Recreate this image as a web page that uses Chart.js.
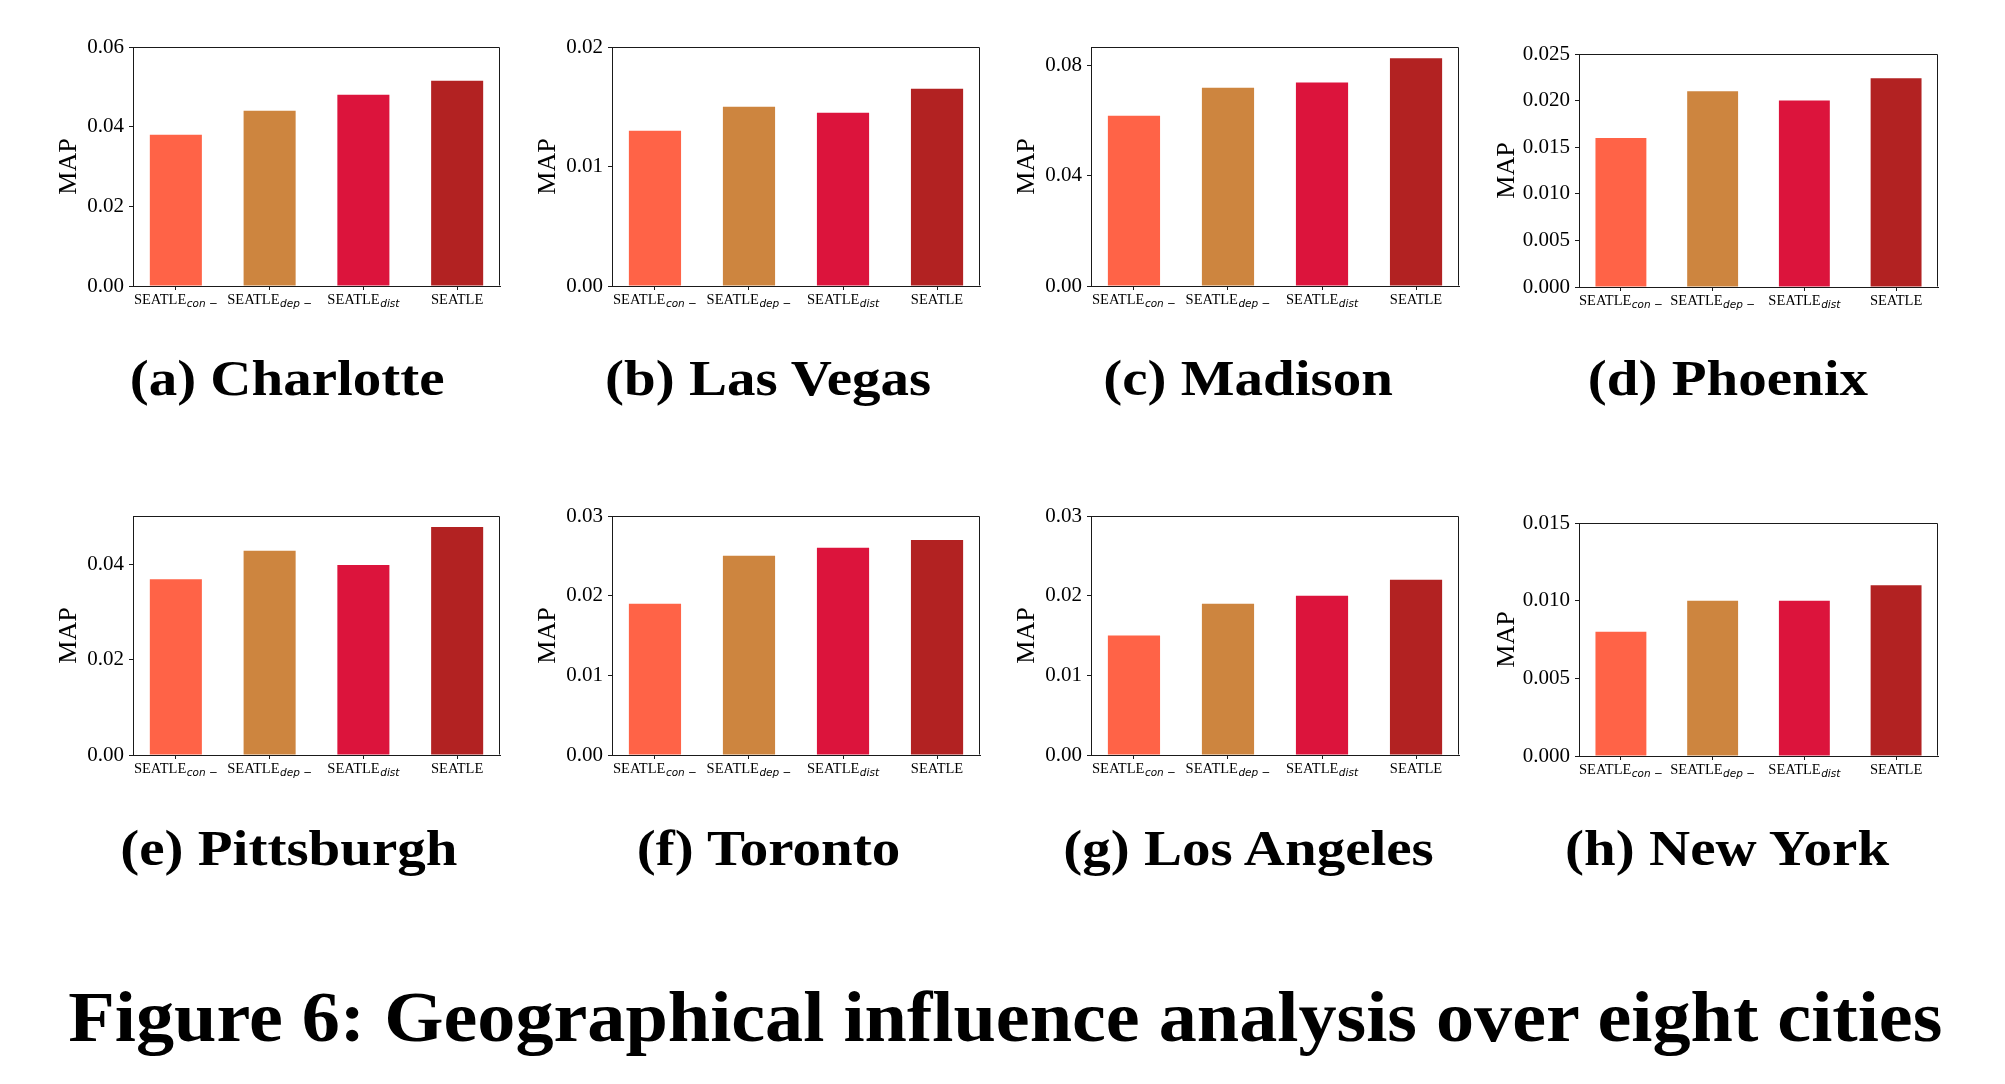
<!DOCTYPE html>
<html><head><meta charset="utf-8">
<script src="https://cdn.jsdelivr.net/npm/chart.js@4.4.0/dist/chart.umd.min.js"></script>
<style>
html,body{margin:0;padding:0;background:#fff;width:2005px;height:1084px;overflow:hidden;}
.cap{position:absolute;font-family:"Liberation Serif",serif;font-weight:bold;color:#000;white-space:nowrap;line-height:1;transform-origin:50% 50%;}
canvas{position:absolute;}
</style></head><body>
<script>
// ---- data ----
const categories = ['SEATLE_{con −}', 'SEATLE_{dep −}', 'SEATLE_{dist}', 'SEATLE'];
const barColors = ['#FF6347', '#CD853F', '#DC143C', '#B22222'];
const panelLabels = ['(a) Charlotte', '(b) Las Vegas', '(c) Madison', '(d) Phoenix',
                     '(e) Pittsburgh', '(f) Toronto', '(g) Los Angeles', '(h) New York'];
const charlotte  = [0.038, 0.044, 0.048, 0.0515];
const lasVegas   = [0.013, 0.015, 0.0145, 0.0165];
const madison    = [0.0618, 0.0719, 0.0738, 0.0826];
const phoenix    = [0.016, 0.021, 0.020, 0.0224];
const pittsburgh = [0.037, 0.043, 0.040, 0.048];
const toronto    = [0.019, 0.025, 0.026, 0.027];
const losAngeles = [0.015, 0.019, 0.020, 0.022];
const newYork    = [0.008, 0.010, 0.010, 0.011];
const seriesValues = [charlotte, lasVegas, madison, phoenix, pittsburgh, toronto, losAngeles, newYork];
const yMax      = [0.06, 0.02, 0.0867, 0.025, 0.0503, 0.03, 0.03, 0.015];
const yStep     = [0.02, 0.01, 0.04, 0.005, 0.02, 0.01, 0.01, 0.005];
const yDecimals = [2, 2, 2, 3, 2, 2, 2, 3];
const yAxisTitle = 'MAP';
const figureTitle = 'Figure 6: Geographical influence analysis over eight cities';

// ---- layout (plot boxes in page pixels) ----
const boxes = [
  {l:133, t:47, r:500, b:286, ty:64}, {l:612, t:47, r:980, b:286, ty:64},
  {l:1091, t:47, r:1459, b:286, ty:64}, {l:1579, t:54, r:1938, b:287, ty:72},
  {l:133, t:516, r:500, b:755, ty:64}, {l:612, t:516, r:980, b:755, ty:64},
  {l:1091, t:516, r:1459, b:755, ty:64}, {l:1579, t:523, r:1938, b:756, ty:72}
];
const captionPos = [
  {x:287, y:395}, {x:768, y:395}, {x:1248, y:395}, {x:1728, y:395},
  {x:289, y:865}, {x:769, y:865}, {x:1248, y:865}, {x:1727, y:865}
];

const PADL = 100, PADT = 30, PADR = 20, PADB = 60;
const SERIF = '"Liberation Serif", "Times New Roman", serif';

function parseLabel(s) {
  const m = s.match(/^(.*?)_\{(.*)\}$/);
  return m ? {main: m[1], sub: m[2]} : {main: s, sub: ''};
}

const frameAndLabels = {
  id: 'frameAndLabels',
  afterDraw(chart) {
    const ctx = chart.ctx, a = chart.chartArea;
    ctx.save();
    ctx.strokeStyle = '#1a1a1a';
    ctx.lineWidth = 1;
    const L = Math.round(a.left) + 0.5, R = Math.round(a.right) - 0.5;
    const T = Math.round(a.top) + 0.5, B = Math.round(a.bottom) - 0.5;
    ctx.beginPath();
    ctx.moveTo(L, T); ctx.lineTo(R, T); ctx.lineTo(R, B);
    ctx.stroke();
    // category labels with subscripts
    const xs = chart.scales.x;
    const base = a.bottom + 18;
    ctx.fillStyle = '#000';
    ctx.textBaseline = 'alphabetic';
    ctx.textAlign = 'left';
    categories.forEach((c, i) => {
      const p = parseLabel(c);
      const cx = xs.getPixelForValue(i);
      ctx.font = '14.5px ' + SERIF;
      const wm = ctx.measureText(p.main).width;
      ctx.font = 'italic 10.5px "DejaVu Sans", sans-serif';
      const ws = p.sub ? ctx.measureText(p.sub).width + 0.5 : 0;
      const x0 = cx - (wm + ws) / 2;
      ctx.font = '14.5px ' + SERIF;
      ctx.fillText(p.main, x0, base);
      if (p.sub) {
        ctx.font = 'italic 10.5px "DejaVu Sans", sans-serif';
        ctx.fillText(p.sub, x0 + wm + 0.5, base + 3);
      }
    });
    ctx.restore();
  }
};

function makeChart(idx) {
  const box = boxes[idx];
  const values = seriesValues[idx];
  const cv = document.createElement('canvas');
  const w = box.r - box.l + PADL + PADR, h = box.b - box.t + PADT + PADB;
  cv.width = w; cv.height = h;
  cv.style.left = (box.l - PADL) + 'px';
  cv.style.top = (box.t - PADT) + 'px';
  cv.style.width = w + 'px'; cv.style.height = h + 'px';
  document.body.appendChild(cv);
  const titleSize = 26;
  const titlePad = PADL - box.ty - titleSize * 1.2 / 2;
  new Chart(cv, {
    type: 'bar',
    data: {
      datasets: [{
        data: values.map((v, i) => ({x: i, y: v})),
        backgroundColor: barColors,
        borderWidth: 0,
        barPercentage: 0.555,
        categoryPercentage: 1.0
      }]
    },
    options: {
      responsive: false,
      animation: false,
      devicePixelRatio: 1,
      layout: {padding: {top: PADT, right: PADR, left: 0, bottom: 0}},
      plugins: {legend: {display: false}, tooltip: {enabled: false}},
      scales: {
        x: {
          type: 'linear', min: -0.457, max: 3.457,
          offset: false, bounds: 'data',
          afterBuildTicks: s => { s.ticks = categories.map((c, i) => ({value: i})); },
          afterFit: s => { s.height = PADB; },
          grid: {offset: false, drawOnChartArea: false, drawTicks: true, tickLength: 4, color: '#1a1a1a', lineWidth: 1},
          border: {display: true, color: '#1a1a1a', width: 1},
          ticks: {autoSkip: false, callback: () => '', font: {size: 1}}
        },
        y: {
          min: 0, max: yMax[idx],
          afterFit: s => { s.width = PADL; },
          grid: {drawOnChartArea: false, drawTicks: true, tickLength: 4, color: '#1a1a1a', lineWidth: 1},
          border: {display: true, color: '#1a1a1a', width: 1},
          ticks: {
            stepSize: yStep[idx], includeBounds: false, autoSkip: false,
            callback: v => Number(v).toFixed(yDecimals[idx]),
            font: {family: SERIF, size: 21}, color: '#000', padding: 5
          },
          title: {
            display: true, text: yAxisTitle, color: '#000',
            font: {family: SERIF, size: titleSize, lineHeight: 1.2},
            padding: {top: titlePad, bottom: 0}
          }
        }
      }
    },
    plugins: [frameAndLabels]
  });
}

for (let i = 0; i < 8; i++) makeChart(i);

function placeText(text, cx, baseline, size, targetScale, targetWidth) {
  const d = document.createElement('div');
  d.className = 'cap';
  d.textContent = text;
  d.style.fontSize = size + 'px';
  document.body.appendChild(d);
  const nw = d.getBoundingClientRect().width;
  const sx = targetWidth ? targetWidth / nw : targetScale;
  d.style.left = (cx - nw / 2) + 'px';
  d.style.top = (baseline - 0.8375 * size) + 'px';
  d.style.transform = 'scaleX(' + sx + ')';
}
panelLabels.forEach((t, i) => placeText(t, captionPos[i].x, captionPos[i].y, 50, 1.14));
placeText(figureTitle, 1005, 1041, 71, 1, 1874);
</script>
</body></html>
